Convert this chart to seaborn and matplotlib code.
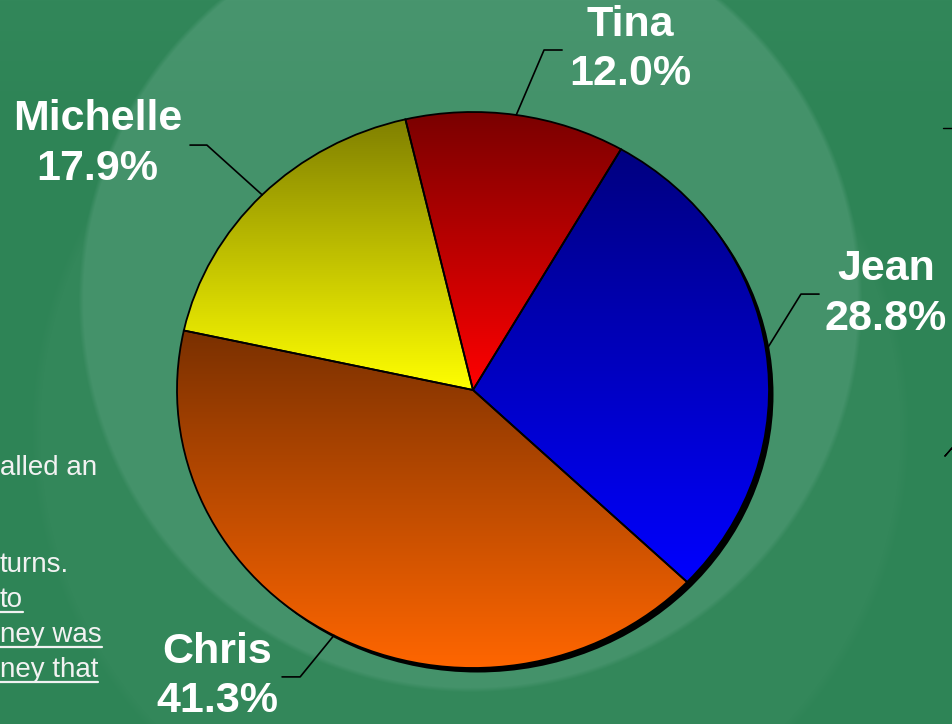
import numpy as np
import matplotlib
matplotlib.use("Agg")
import matplotlib.pyplot as plt
import seaborn as sns
from matplotlib.colors import LinearSegmentedColormap
from matplotlib.patches import Ellipse

# ---- data ----
names = ["Tina", "Jean", "Chris", "Michelle"]
shares = [12.0, 28.8, 41.3, 17.9]
pct_labels = ["12.0%", "28.8%", "41.3%", "17.9%"]
top_colors = ["#7a0000", "#000080", "#7a3000", "#808000"]
bottom_colors = ["#ff0000", "#0000ff", "#ff6600", "#ffff00"]
side_lines = ["alled an", "", "turns.", "to", "ney was", "ney that"]
side_underlined = [False, False, False, True, True, True]

sns.set_theme(style="white")
plt.rcParams["font.family"] = ["Liberation Sans", "DejaVu Sans"]

W, H, DPI = 952, 724, 100
fig = plt.figure(figsize=(W / DPI, H / DPI), dpi=DPI)

# ---- background ----
bg_ax = fig.add_axes([0, 0, 1, 1], zorder=0)
yy, xx = np.mgrid[0:H, 0:W].astype(float)
base = np.array([46, 132, 86], float)
img = np.ones((H, W, 3)) * base
dA = np.hypot(xx - 470, yy - 300)
mA = np.clip((392 - dA) / 5.0, 0, 1)
dB = np.hypot(xx - 470, yy - 430)
mB = np.clip((440 - dB) / 10.0, 0, 1)
lightA = np.array([22, 14, 20], float)
lightB = np.array([5, 3, 4], float)
img = img + mA[..., None] * lightA + mB[..., None] * lightB * (1 - mA[..., None])
img = img + (np.clip(1 - yy / 120.0, 0, 1)[..., None] * np.array([4, 3, 4]))
bg_ax.imshow(np.clip(img, 0, 255).astype(np.uint8), extent=(0, W, H, 0), aspect="auto")
bg_ax.set_xlim(0, W)
bg_ax.set_ylim(H, 0)
bg_ax.axis("off")

# ---- pie (elliptical) ----
cx, cy, rx, ry = 473, 390, 296, 278
ax = fig.add_axes([(cx - rx) / W, (H - cy - ry) / H, 2 * rx / W, 2 * ry / H], zorder=2)
ax.patch.set_alpha(0)

startangle = 103.2
shadow = Ellipse((4.5 / rx, -4.5 / ry), 2, 2, facecolor="black", edgecolor="none", zorder=0)
shadow.set_clip_on(False)
ax.add_patch(shadow)

wedges, _ = ax.pie(shares, startangle=startangle, counterclock=False, radius=1,
                   wedgeprops=dict(edgecolor="black", linewidth=1.3))
ax.set_aspect("auto")
ax.set_xlim(-1, 1)
ax.set_ylim(-1, 1)
ax.axis("off")

for w, c0, c1 in zip(wedges, top_colors, bottom_colors):
    w.set_clip_on(False)
    th = np.deg2rad(np.linspace(w.theta1, w.theta2, 200))
    ys = np.concatenate([[0], np.sin(th)])
    xs = np.concatenate([[0], np.cos(th)])
    y0, y1 = ys.min(), ys.max()
    x0, x1 = xs.min(), xs.max()
    cmap = LinearSegmentedColormap.from_list("g", [c1, c0])
    grad = np.linspace(0, 1, 256)[:, None]
    im = ax.imshow(grad, cmap=cmap, extent=(x0, x1, y0, y1), origin="lower",
                   aspect="auto", zorder=1, interpolation="bilinear")
    im.set_clip_path(w)
    w.set_facecolor("none")
    w.set_zorder(2)

# ---- labels with leader lines ----
layout = {
    "Tina": ((0.240, 1.223), (0.301, 1.223), (0.530, 1.225)),
    "Jean": ((1.108, 0.345), (1.169, 0.345), (1.395, 0.345)),
    "Chris": ((-0.584, -1.032), (-0.645, -1.032), (-0.863, -1.030)),
    "Michelle": ((-0.899, 0.881), (-0.956, 0.881), (-1.268, 0.885)),
}
for w, nm, pl in zip(wedges, names, pct_labels):
    mid = np.deg2rad((w.theta1 + w.theta2) / 2)
    sx, sy = np.cos(mid), np.sin(mid)
    (ex, ey), (hx, hy), (tx, ty) = layout[nm]
    ax.plot([sx, ex, hx], [sy, ey, hy], color="black", lw=1.2, clip_on=False, zorder=3)
    ax.text(tx, ty, f"{nm}\n{pl}", ha="center", va="center", multialignment="center",
            color="white", fontsize=31, fontweight="bold", linespacing=1.3,
            clip_on=False, zorder=4)

# ---- left side text fragments ----
ys_px = [468, 516, 565, 600, 635, 670]
fig.canvas.draw()
renderer = fig.canvas.get_renderer()
for line, ul, ypx in zip(side_lines, side_underlined, ys_px):
    if not line:
        continue
    t = fig.text(0.0, 1 - ypx / H, line, ha="left", va="center", color="#f2f2f2",
                 fontsize=20, zorder=5)
    if ul:
        bb = t.get_window_extent(renderer=renderer)
        yl = 1 - (ypx + 12) / H
        fig.add_artist(plt.Line2D([0, bb.x1 / W], [yl, yl], color="#f2f2f2", lw=1.6,
                                  transform=fig.transFigure, zorder=5))

fig.add_artist(plt.Line2D([943 / W, 952 / W], [1 - 128 / H, 1 - 128 / H], color="black", lw=1.0,
                          transform=fig.transFigure, zorder=5))
fig.add_artist(plt.Line2D([945 / W, 952 / W, 945 / W], [1 - 456 / H, 1 - 448 / H, 1 - 456 / H],
                          color="black", lw=1.0, transform=fig.transFigure, zorder=5))

fig.savefig("out.png", dpi=DPI)
